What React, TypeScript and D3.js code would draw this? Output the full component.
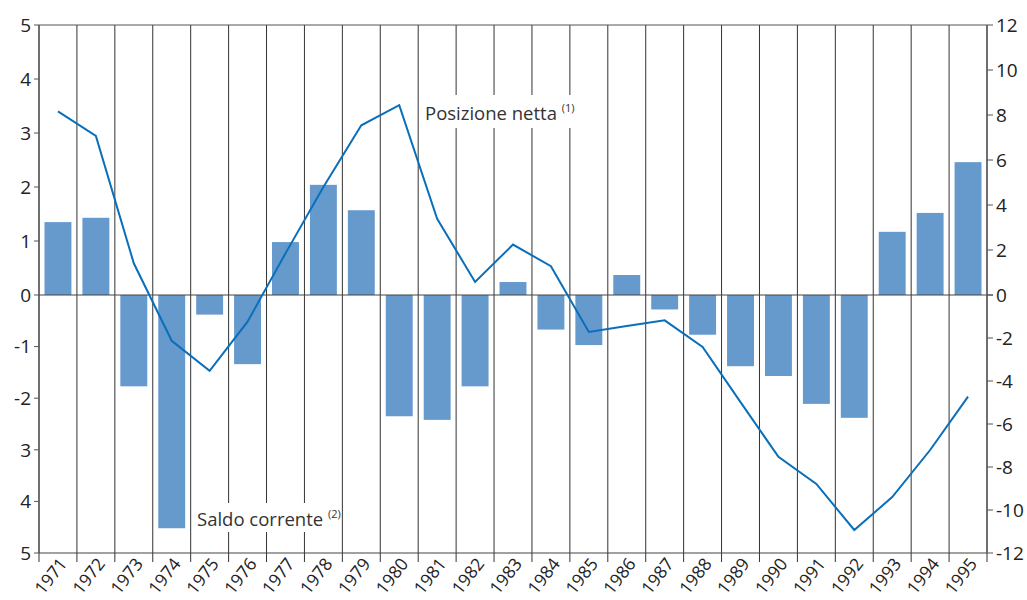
import React from "react";
import * as d3 from "d3";

const years = ["1971","1972","1973","1974","1975","1976","1977","1978","1979","1980","1981","1982","1983","1984","1985","1986","1987","1988","1989","1990","1991","1992","1993","1994","1995"];
const saldoCorrente = [1.35,1.43,-1.77,-4.52,-0.38,-1.34,0.98,2.04,1.57,-2.35,-2.42,-1.77,0.24,-0.67,-0.97,0.37,-0.28,-0.77,-1.38,-1.57,-2.11,-2.38,1.17,1.52,2.46];
const posizioneNetta = [8.16,7.07,1.41,-2.13,-3.53,-1.24,1.85,4.8,7.54,8.44,3.39,0.58,2.24,1.28,-1.72,-1.44,-1.18,-2.42,-4.98,-7.53,-8.79,-10.93,-9.4,-7.21,-4.73];
const leftTickValues = [5,4,3,2,1,0,-1,-2,-3,-4,-5];
const leftTickLabels = ["5","4","3","2","1","0","-1","-2","3","4","5"];
const rightTickValues = [12,10,8,6,4,2,0,-2,-4,-6,-8,-10,-12];
const rightTickLabels = ["12","10","8","6","4","2","0","-2","-4","-6","-8","-10","-12"];

const W = 1027, H = 600;
const L = 39, R = 987, T = 25, B = 553, Z = 295;
const FONT = "'Open Sans', 'Noto Sans', sans-serif";

export default function App() {
  const x = d3.scaleBand<string>().domain(years).range([L, R]).paddingInner(0).paddingOuter(0);
  const bw = x.bandwidth();
  const barW = bw * 0.71;
  const yL = d3.scaleLinear().domain([-5, 0, 5]).range([B, Z, T]);
  const yR = d3.scaleLinear().domain([-12, 0, 12]).range([B, Z, T]);
  const line = d3.line<number>()
    .x((_, i) => (x(years[i]) as number) + bw / 2)
    .y((d) => yR(d));
  const boundaries = d3.range(years.length + 1).map((i) => L + i * bw);

  return (
    <svg width={W} height={H} style={{ position: "absolute", left: 0, top: 0, background: "#fff" }} fontFamily={FONT}>
      <rect x={0} y={0} width={W} height={H} fill="#fff" />
      {boundaries.map((bx, i) => (
        <line key={"g" + i} x1={bx} x2={bx} y1={T} y2={B + 9} stroke="#333" strokeWidth={1} />
      ))}
      <line x1={L} x2={R} y1={T} y2={T} stroke="#555" strokeWidth={1} />
      {saldoCorrente.map((v, i) => (
        <rect
          key={"b" + i}
          x={(x(years[i]) as number) + (bw - barW) / 2}
          width={barW}
          y={Math.min(yL(v), yL(0))}
          height={Math.abs(yL(v) - yL(0))}
          fill="#6699cc"
        />
      ))}
      <line x1={L} x2={R + 6} y1={yL(0)} y2={yL(0)} stroke="#444" strokeWidth={1.2} />
      <line x1={L} x2={R} y1={B} y2={B} stroke="#444" strokeWidth={1.2} />
      <line x1={L} x2={L} y1={T} y2={B} stroke="#555" strokeWidth={1.2} />
      <line x1={R} x2={R} y1={T} y2={B} stroke="#555" strokeWidth={1.2} />
      <path d={line(posizioneNetta) || ""} fill="none" stroke="#0a6fba" strokeWidth={2} strokeLinejoin="miter" />
      <rect x={420} y={95} width={164} height={33} fill="#fff" />
      <rect x={193} y={503} width={146} height={29} fill="#fff" />
      <text x={425} y={120} fontSize={18.5} fill="#333">
        Posizione netta <tspan fontSize={11} dy={-8}>(1)</tspan>
      </text>
      <text x={197} y={526} fontSize={18.5} fill="#333">
        Saldo corrente <tspan fontSize={11} dy={-8}>(2)</tspan>
      </text>
      {leftTickValues.map((v, i) => (
        <g key={"l" + i}>
          <line x1={L - 5} x2={L} y1={yL(v)} y2={yL(v)} stroke="#555" />
          <text x={31} y={yL(v)} dy="0.36em" textAnchor="end" fontSize={19} fill="#222">
            {leftTickLabels[i]}
          </text>
        </g>
      ))}
      {rightTickValues.map((v, i) => (
        <g key={"r" + i}>
          <line x1={R} x2={R + 6} y1={yR(v)} y2={yR(v)} stroke="#555" />
          <text x={996} y={yR(v)} dy="0.36em" textAnchor="start" fontSize={19} fill="#222">
            {rightTickLabels[i]}
          </text>
        </g>
      ))}
      {years.map((yr) => {
        const cx = (x(yr) as number) + bw / 2 + 10;
        const cy = 564;
        return (
          <text key={yr} x={cx} y={cy} textAnchor="end" fontSize={17.5} fill="#222" transform={`rotate(-52 ${cx} ${cy})`}>
            {yr}
          </text>
        );
      })}
    </svg>
  );
}
